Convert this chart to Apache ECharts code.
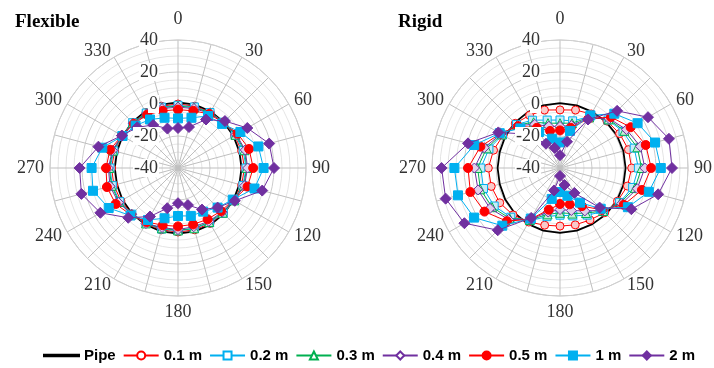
<!DOCTYPE html>
<html>
<head>
<meta charset="utf-8">
<script src="https://cdn.jsdelivr.net/npm/echarts@6/dist/echarts.min.js"></script>
<style>
  html, body { margin: 0; padding: 0; background: #fff; }
  #chart { width: 714px; height: 368px; }
</style>
</head>
<body>
<div id="chart"></div>
<script>
// angles of the 24 spokes (deg, clockwise from top)
const angles = [0, 15, 30, 45, 60, 75, 90, 105, 120, 135, 150, 165, 180, 195, 210, 225, 240, 255, 270, 285, 300, 315, 330, 345]
const seriesNames = ['Pipe', '0.1 m', '0.2 m', '0.3 m', '0.4 m', '0.5 m', '1 m', '2 m']

// Flexible
const flexPipe = [1, 1, 0.8, 0.5, 0, -0.3, -0.3, -0.3, 0, 0.5, 0.8, 1, 1, 1, 0.8, 0.5, 0, -0.5, -0.5, -0.5, 0, 0.5, 0.8, 1]
const flex01 = [0, 0, 0.3, 0.5, 0.8, 1.2, 1.5, 1.2, 0.5, 0.2, 0, 0, 0, 0, 0.3, 0.6, 1.2, 1.5, 1.5, 1, 0.5, 0.2, 0, 0]
const flex02 = [-0.8, -0.5, 0, 0.5, 1.2, 2.2, 2.5, 2, 0.5, 0, -0.5, -0.8, -0.8, -0.5, 0, 0.8, 2, 2.5, 2.5, 1.5, 0.5, 0, -0.3, -0.6]
const flex03 = [-1.2, -1, 0, 0.5, 1.5, 3, 3, 2.5, 0.5, -0.5, -1, -1, -1, -1, 0, 1, 2.5, 3, 3, 2, 0.5, 0, -0.5, -1]
const flex04 = [-2, -1.5, -0.5, 0.5, 2, 3.5, 3.5, 3, 0.5, -1, -1.5, -2, -1.5, -1.5, 0, 1, 3, 4, 3.5, 2.5, 0.5, -0.5, -1, -1.5]
const flex05 = [-3.5, -3, -1, 0, 3, 6, 7, 5, 0, -2, -3, -3.5, -3.5, -3, -1, 1.5, 5, 6, 5, 4, 0.5, -1, -1.5, -3]
const flex1 = [-9, -7.5, -2.5, -1, 5, 12, 13.5, 9.5, -0.5, -5, -8.5, -9, -10, -7.5, -2.5, 2, 10, 15, 14, 9, 0, -2.5, -5, -7.5]
const flex2 = [-15, -13.5, -5, 1.5, 10, 19, 20, 14.5, 1, -5, -10, -16, -18, -14, -5, 4, 16, 22.5, 21.5, 11.5, 0.5, -4, -9, -14.5]

// Rigid
const rigidPipe = [0.5, 0.5, 0.5, 0.8, 1, 1, 1, 1, 1, 0.8, 0.5, 0.5, 0.5, 0.5, 0.3, 0, -0.5, -1, -1, -1, -0.5, 0, 0.3, 0.5]
const rigid01 = [-3.7, -2.5, -1, 1.5, 3, 4.3, 4.8, 3.6, 1.5, -0.5, -2.5, -3.2, -3.7, -3, -1, 1.5, 3.5, 4.5, 4.8, 3, 1, -0.5, -2, -2.5]
const rigid02 = [-10, -9.5, -3, 2.5, 5.5, 8, 9, 7, 3, -1.5, -6, -9, -10.5, -8.5, -2, 3.5, 7.5, 9.5, 9.5, 6, 1.5, -1.5, -5.5, -9]
const rigid03 = [-12, -11, -3.5, 3, 6.5, 10, 11, 8.5, 3.5, -2, -7.5, -10.5, -12, -10, -2.5, 4.5, 9, 11.5, 11.5, 7.5, 2, -2, -7, -11]
const rigid04 = [-14, -12.5, -4, 3.5, 8, 12, 13, 10, 4.5, -2.5, -9, -12.5, -14, -11.5, -3, 5.5, 10.5, 13, 13.5, 9, 2.5, -2.5, -8.5, -13]
const rigid05 = [-16.5, -14, -4.5, 5, 11, 15.5, 17, 13, 6, -3, -12.5, -16.5, -17.5, -13, -3, 7, 14.5, 18, 17.5, 11.5, 3, -3, -11, -16]
const rigid1 = [-24, -16, -2, 8, 16, 21.5, 23, 17.5, 9, -4, -15, -22, -25, -20, -3.5, 11, 22, 26, 26, 15.5, 3.5, -5, -14, -21]
const rigid2 = [-32, -23, -5, 10.5, 23.5, 30.5, 30, 23.5, 11.5, -5, -22, -29, -35, -25.5, -4, 15, 29, 34, 34, 19.5, 4.5, -10, -22.5, -27]

const flexData = [flexPipe, flex01, flex02, flex03, flex04, flex05, flex1, flex2]
const rigidData = [rigidPipe, rigid01, rigid02, rigid03, rigid04, rigid05, rigid1, rigid2]

const styles = [
  { color: '#000000', symbol: 'none', size: 0, fill: null, width: 1.8 },
  { color: '#ff0000', symbol: 'circle', size: 8, fill: '#f9caca', width: 1 },
  { color: '#00b0f0', symbol: 'rect', size: 8, fill: '#c6ecfa', width: 1 },
  { color: '#00b050', symbol: 'triangle', size: 9, fill: '#c8ecd6', width: 1 },
  { color: '#7030a0', symbol: 'diamond', size: 10, fill: '#e0d0ec', width: 1 },
  { color: '#ff0000', symbol: 'circle', size: 9, fill: '#ff0000', width: 1 },
  { color: '#00b0f0', symbol: 'rect', size: 9, fill: '#00b0f0', width: 1 },
  { color: '#7030a0', symbol: 'diamond', size: 11, fill: '#7030a0', width: 1 },
]

const centers = [[178, 168], [560, 168]]
const R = 128
const serif = 'Liberation Serif'
const labelFont = { fontFamily: serif, fontSize: 18, color: '#333' }

function closed(vals) {
  const pts = vals.map((v, i) => [v, angles[i]])
  pts.push({ value: [vals[0], 360], symbol: 'none' })
  return pts
}

// angle label: keep Excel-like placement (text centred on its spoke end)
function angleLabel(v) {
  if (v % 30 !== 0 || v >= 360)
    return ''
  if (v === 0)
    return `{t|${v}}`
  if (v === 180)
    return `{b|${v}}`
  if (v === 90 || v === 270)
    return `{m|${v}}`
  return `{d|${v}}`
}

const series = []
;[flexData, rigidData].forEach((set, p) => {
  set.forEach((vals, k) => {
    const s = styles[k]
    series.push({
      name: seriesNames[k],
      type: 'line',
      coordinateSystem: 'polar',
      polarIndex: p,
      data: closed(vals),
      symbol: s.symbol,
      symbolSize: s.size,
      showSymbol: s.symbol !== 'none',
      lineStyle: { color: s.color, width: s.width },
      itemStyle: { color: s.fill || s.color, borderColor: s.color, borderWidth: 1 },
      animation: false,
      z: 2 + k * 0.01,
    })
  })
})

const chart = echarts.init(document.getElementById('chart'), null, { renderer: 'canvas' })
chart.setOption({
  animation: false,
  title: [
    { text: 'Flexible', left: 10, top: 8, textStyle: { fontFamily: serif, fontWeight: 'bold', fontSize: 19, color: '#000' } },
    { text: 'Rigid', left: 393, top: 8, textStyle: { fontFamily: serif, fontWeight: 'bold', fontSize: 19, color: '#000' } },
  ],
  polar: [0, 1, 0, 1].map(i => ({ center: centers[i], radius: R })),
  angleAxis: [0, 1, 2, 3].map(i => ({
    polarIndex: i,
    type: 'value',
    min: 0,
    max: 360,
    interval: 15,
    startAngle: 90,
    clockwise: true,
    show: i < 2,
    axisLine: { show: true, lineStyle: { color: '#d0d0d0', width: 1 } },
    axisTick: { show: false },
    splitLine: { show: true, lineStyle: { color: '#bfbfbf', width: 1 } },
    axisLabel: {
      formatter: angleLabel,
      margin: 6,
      ...labelFont,
      rich: {
        t: { ...labelFont, lineHeight: 30 },
        b: { ...labelFont, lineHeight: 20 },
        m: { ...labelFont },
        d: { ...labelFont, lineHeight: 2 },
      },
    },
  })),
  radiusAxis: [0, 1, 2, 3].map(i => ({
    polarIndex: i,
    type: 'value',
    min: -40,
    max: 40,
    interval: 20,
    z: i < 2 ? 0 : 10,
    axisLine: { show: false },
    axisTick: { show: false },
    splitLine: { show: i < 2, lineStyle: { color: '#cccccc', width: 1 } },
    minorTick: { show: false, splitNumber: 4 },
    minorSplitLine: { show: i < 2, lineStyle: { color: '#e4e4e4', width: 1 } },
    axisLabel: {
      show: i >= 2,
      ...labelFont,
      backgroundColor: '#fff',
      padding: [0, 1],
      margin: 19,
    },
  })),
  legend: {
    left: 43,
    top: 348,
    padding: 0,
    itemWidth: 35,
    itemHeight: 10,
    itemGap: 7,
    symbolKeepAspect: true,
    textStyle: { fontFamily: 'Liberation Sans', fontWeight: 'bold', fontSize: 15, color: '#000' },
    data: seriesNames.map((n, k) => {
      if (k === 0)
        return { name: n, icon: 'path://M0,0H100V4H0Z' }
      if (k <= 4)
        return { name: n, itemStyle: { color: '#ffffff', borderColor: styles[k].color } }
      return { name: n }
    }),
  },
  series,
})
</script>
</body>
</html>
